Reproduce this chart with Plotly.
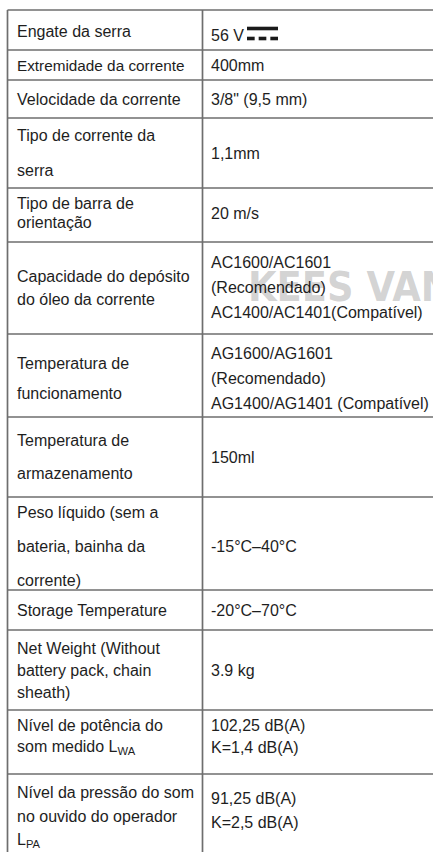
import plotly.graph_objects as go

# ---------------- content ----------------
LEFT_LABELS = [
    ["Engate da serra"],
    ["Extremidade da corrente"],
    ["Velocidade da corrente"],
    ["Tipo de corrente da", "serra"],
    ["Tipo de barra de", "orientação"],
    ["Capacidade do depósito", "do óleo da corrente"],
    ["Temperatura de", "funcionamento"],
    ["Temperatura de", "armazenamento"],
    ["Peso líquido (sem a", "bateria, bainha da", "corrente)"],
    ["Storage Temperature"],
    ["Net Weight (Without", "battery pack, chain", "sheath)"],
    ["Nível de potência do", "som medido L<sub>WA</sub>"],
    ["Nível da pressão do som", "no ouvido do operador", "L<sub>PA</sub>"],
]
RIGHT_VALUES = [
    ["56 V"],
    ["400mm"],
    ['3/8" (9,5 mm)'],
    ["1,1mm"],
    ["20 m/s"],
    ["AC1600/AC1601", "(Recomendado)", "AC1400/AC1401(Compatível)"],
    ["AG1600/AG1601", "(Recomendado)", "AG1400/AG1401 (Compatível)"],
    ["150ml"],
    ["-15°C–40°C"],
    ["-20°C–70°C"],
    ["3.9 kg"],
    ["102,25 dB(A)", "K=1,4 dB(A)"],
    ["91,25 dB(A)", "K=2,5 dB(A)"],
]
WATERMARK = "KEES VAN"

# ---------------- layout (pixels) ----------------
W, H = 433, 852
ROW_EDGES = [10, 50, 80, 118, 188, 242, 334, 417, 497, 590, 630, 710, 774, 862]
COL_EDGES = [7.5, 202.5, 440]
LEFT_PITCH = [0, 0, 0, 35, 19, 23, 30, 33, 34, 0, 22, 22, 24]
RIGHT_PITCH = [0, 0, 0, 0, 0, 25, 25, 0, 0, 0, 0, 22, 24]
LEFT_SHIFT = [1, 0, 0, 0, -2, 0, 3, 0, 3, 0, 0, -6, -2]
RIGHT_SHIFT = [5, 0, 0, 0, -2, -1, 3, 0, 3, 0, 0, -6, -8]
LEFT_PAD = 7.5
RIGHT_PAD = 6.5
LINE_COLOR = "#6e6e6e"
TEXT_COLOR = "#1e1e1e"
FONT = "Liberation Sans, Arial, sans-serif"
FONT_SIZE = 16
ROW_FONT_SIZE = {1: 15.3}

fig = go.Figure()

shapes = []
# horizontal rules
for y in ROW_EDGES[:-1]:
    shapes.append(dict(type="line", xref="x", yref="y", x0=COL_EDGES[0], x1=COL_EDGES[-1],
                       y0=y, y1=y, line=dict(color=LINE_COLOR, width=1.7)))
# vertical rules
for x in COL_EDGES[:-1]:
    shapes.append(dict(type="line", xref="x", yref="y", x0=x, x1=x,
                       y0=ROW_EDGES[0], y1=ROW_EDGES[-1], line=dict(color=LINE_COLOR, width=1.7)))

# DC symbol next to "56 V"
SYM_X0, SYM_X1 = 247, 278
SYM_TOP, SYM_BOT = 28.5, 38.5
shapes.append(dict(type="rect", xref="x", yref="y", x0=SYM_X0, x1=SYM_X1,
                   y0=SYM_TOP - 1.8, y1=SYM_TOP + 1.8, line=dict(width=0), fillcolor="#1a1a1a"))
seg = (SYM_X1 - SYM_X0 - 2 * 4) / 3
for k in range(3):
    a = SYM_X0 + k * (seg + 4)
    shapes.append(dict(type="rect", xref="x", yref="y", x0=a, x1=a + seg,
                       y0=SYM_BOT - 1.8, y1=SYM_BOT + 1.8, line=dict(width=0), fillcolor="#1a1a1a"))

annotations = []
# watermark (behind text)
annotations.append(dict(x=246, y=287, xref="x", yref="y", text=WATERMARK, showarrow=False,
                        xanchor="left", yanchor="middle",
                        font=dict(family="DejaVu Sans Condensed, DejaVu Sans, sans-serif",
                                  size=41, color="rgba(150,150,150,0.42)", weight="bold")))


def place(lines, x, top, bottom, pitch, shift, size=FONT_SIZE):
    c = (top + bottom) / 2 + shift
    n = len(lines)
    for i, t in enumerate(lines):
        y = c + (i - (n - 1) / 2) * pitch
        annotations.append(dict(x=x, y=y, xref="x", yref="y", text=t, showarrow=False,
                                xanchor="left", yanchor="middle",
                                font=dict(family=FONT, size=size, color=TEXT_COLOR)))


for r in range(len(LEFT_LABELS)):
    top, bottom = ROW_EDGES[r], ROW_EDGES[r + 1]
    place(LEFT_LABELS[r], COL_EDGES[0] + LEFT_PAD, top, bottom, LEFT_PITCH[r], LEFT_SHIFT[r],
          ROW_FONT_SIZE.get(r, FONT_SIZE))
    place(RIGHT_VALUES[r], COL_EDGES[1] + RIGHT_PAD, top, bottom, RIGHT_PITCH[r], RIGHT_SHIFT[r])

fig.update_layout(
    width=W, height=H, autosize=False,
    margin=dict(l=0, r=0, t=0, b=0, pad=0),
    paper_bgcolor="white", plot_bgcolor="white",
    xaxis=dict(range=[0, W], visible=False, fixedrange=True),
    yaxis=dict(range=[H, 0], visible=False, fixedrange=True),
    shapes=shapes, annotations=annotations, showlegend=False,
)

fig.write_html("out.html", config={"displayModeBar": False, "staticPlot": True},
               post_script="document.body.style.margin='0';document.body.style.overflow='hidden';")
